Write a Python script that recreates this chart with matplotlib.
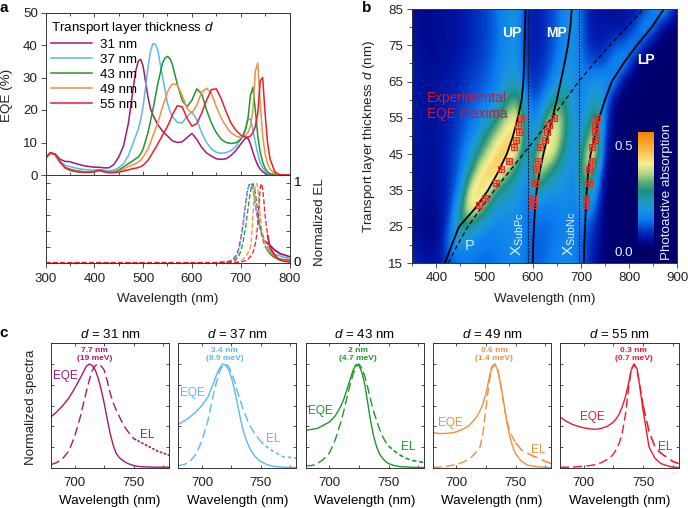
import numpy as np
import matplotlib
matplotlib.use('Agg')
import matplotlib.pyplot as plt
from matplotlib.colors import LinearSegmentedColormap
from matplotlib.ticker import MultipleLocator

plt.rcParams['font.family'] = ['Liberation Sans', 'DejaVu Sans']
plt.rcParams['mathtext.fontset'] = 'custom'
plt.rcParams['mathtext.rm'] = 'Liberation Sans'
plt.rcParams['mathtext.it'] = 'Liberation Sans:italic'
plt.rcParams['mathtext.bf'] = 'Liberation Sans:bold'
plt.rcParams['font.size'] = 9.6
plt.rcParams['axes.linewidth'] = 0.7
plt.rcParams['axes.edgecolor'] = '#333333'
plt.rcParams['xtick.color'] = '#333333'
plt.rcParams['ytick.color'] = '#333333'
plt.rcParams['xtick.labelcolor'] = '#222222'
plt.rcParams['ytick.labelcolor'] = '#222222'

W, H = 688, 508
thickness = [31, 37, 43, 49, 55]
colors = ['#a01a74', '#5cb8ee', '#1f962e', '#ef9140', '#ea1d2c']

# panel a, EQE in percent
wl_eqe = [300, 310, 320, 330, 340, 350, 360, 370, 380, 390, 400, 410, 420, 430, 440, 450, 460, 470, 480,
          485, 490, 495, 500, 510, 515, 520, 525, 530, 540, 545, 550, 555, 560,
          570, 580, 590, 600, 610, 620, 630, 640, 650, 660, 670,
          680, 690, 700, 705, 710, 715, 720, 725, 730, 735, 740, 745, 750, 755, 760, 770, 780, 790, 800]
eqe_31 = [5.2, 6.8, 6.5, 4.8, 4.2, 4.1, 3.6, 3.2, 2.8, 2.6, 2.4, 2.4, 2.2, 2.2, 3.2, 5.5, 9, 16, 27,
          32, 35, 35.6, 33.5, 24, 20.5, 18.5, 17, 15.5, 13.5, 12.7, 12, 11.2, 10.5,
          10, 10.2, 11.5, 12.8, 11, 8.5, 6.8, 5.8, 5, 4.8, 5,
          6, 7.5, 9.5, 10.5, 11.3, 11.3, 9.5, 7, 4.8, 3, 1.8, 1, 0.5, 0.2, 0.1, 0, 0, 0, 0]
eqe_37 = [5.2, 6.7, 6.3, 4.2, 3.0, 2.6, 2.2, 1.9, 1.7, 1.5, 1.5, 1.7, 1.5, 1.3, 1.5, 2.2, 3.5, 6, 10,
          12, 14, 17, 21, 33, 38, 40.4, 40.2, 38.5, 30, 26, 22, 19.7, 18,
          16.2, 16, 18, 19.5, 17, 13, 10, 8, 7, 6.7, 6.9,
          7.5, 8.7, 11, 12.5, 14.5, 17, 17.3, 14, 10, 6.5, 3.8, 2.2, 1.1, 0.5, 0.2, 0.05, 0, 0, 0]
eqe_43 = [5.2, 6.7, 6.2, 3.8, 2.4, 1.8, 1.4, 1.2, 1.0, 1.0, 1.1, 1.5, 1.1, 0.9, 1, 1.5, 2.5, 3.5, 4.5,
          5, 5.5, 6.5, 8, 13, 16.5, 20, 24, 28, 34.5, 36, 36.5, 35.8, 34,
          28, 23, 21, 23, 26.5, 25, 20, 16, 13, 11, 10,
          9.7, 9.9, 11, 12, 14, 17.5, 24.5, 27, 20, 12, 7, 4, 2, 1, 0.4, 0.1, 0, 0, 0]
eqe_49 = [5.2, 6.7, 6.2, 3.8, 2.2, 1.5, 1.2, 1.0, 0.9, 0.9, 1, 1.4, 1, 0.8, 0.9, 1.2, 1.8, 2.6, 3.2,
          3.5, 4, 4.6, 5.5, 8, 10, 12, 14, 16, 21, 23.2, 25.5, 27, 28,
          27.8, 24.5, 20.5, 19, 21.5, 25.5, 26.7, 25, 21, 17.5, 15,
          13, 12, 11.5, 11.7, 12.2, 13.2, 15, 20, 32, 34.5, 22, 12, 6.5, 3.5, 1.8, 0.4, 0.1, 0, 0]
eqe_55 = [5.2, 6.9, 6.3, 4, 2.2, 1.5, 1.1, 0.9, 0.8, 0.8, 1, 1.4, 1, 0.7, 0.7, 0.9, 1.2, 1.6, 2,
          2.1, 2.3, 2.6, 3, 4.5, 5.7, 7, 8.2, 9.5, 12.3, 13.6, 15, 16.6, 18.5,
          21.3, 21, 17.5, 15, 15.8, 19, 23, 26.3, 26.5, 23.5, 19.5,
          16, 13.8, 12.3, 11.9, 11.7, 11.7, 12, 13, 15, 19, 29, 30, 19, 10, 5, 0.9, 0.1, 0, 0]
eqe_all = [eqe_31, eqe_37, eqe_43, eqe_49, eqe_55]

# panel c, normalized spectra on a common grid
wl_c = [680, 685, 690, 695, 700, 705, 710, 712.5, 715, 717.5, 720, 722.5, 725, 727.5, 730, 732.5, 735, 737.5,
        740, 742.5, 745, 747.5, 750, 755, 760, 765, 770, 775, 780]
c_eqe_31 = [.49, .54, .60, .67, .765, .87, .98, 1.0, .985, .94, .86, .75, .62, .47, .33, .22, .14, .10,
            .075, .055, .04, .03, .02, .01, .008, .006, .005, .005, .005]
c_eqe_37 = [.42, .45, .49, .54, .60, .68, .82, .90, .96, 1.0, .99, .95, .87, .76, .62, .48, .36, .27,
            .2, .15, .11, .08, .06, .03, .015, .008, .004, .003, .002]
c_eqe_43 = [.36, .37, .38, .41, .44, .5, .6, .67, .76, .85, .94, .995, .99, .92, .8, .62, .44, .3,
            .2, .13, .09, .06, .04, .02, .01, .008, .004, .002, .002]
c_eqe_49 = [.34, .33, .33, .335, .345, .37, .40, .43, .46, .5, .55, .62, .72, .86, .98, 1.0, .93, .8,
            .62, .44, .3, .2, .13, .06, .025, .015, .008, .004, .002]
c_eqe_55 = [.49, .45, .42, .40, .385, .375, .37, .375, .38, .39, .40, .42, .44, .475, .52, .59, .68, .8,
            .94, 1.0, .95, .76, .55, .2, .09, .04, .02, .006, .002]
c_el_31 = [.03, .05, .09, .16, .3, .5, .74, .85, .94, .985, 1.0, .98, .94, .84, .72, .63, .56, .50,
           .44, .39, .35, .31, .28, .25, .22, .19, .16, .14, .12]
c_el_37 = [.02, .03, .06, .13, .26, .45, .72, .83, .93, .98, 1.0, .98, .92, .84, .74, .65, .56, .49,
           .42, .37, .33, .29, .25, .2, .16, .13, .1, .1, .09]
c_el_43 = [.02, .02, .04, .08, .14, .27, .45, .56, .68, .8, .9, .97, 1.0, .96, .88, .77, .65, .54,
           .45, .37, .3, .25, .21, .16, .12, .09, .07, .06, .05]
c_el_49 = [.005, .005, .01, .02, .03, .05, .08, .1, .13, .16, .2, .34, .58, .82, .96, 1.0, .95, .78,
           .6, .46, .35, .29, .24, .17, .14, .11, .09, .06, .04]
c_el_55 = [.005, .005, .005, .01, .015, .02, .03, .04, .05, .065, .08, .1, .13, .18, .24, .34, .5, .74,
           .95, 1.0, .93, .78, .6, .35, .2, .14, .1, .06, .04]
c_eqe = [c_eqe_31, c_eqe_37, c_eqe_43, c_eqe_49, c_eqe_55]
c_el = [c_el_31, c_el_37, c_el_43, c_el_49, c_el_55]
c_notes = ['7.7 nm\n(19 meV)', '3.4 nm\n(8.9 meV)', '2 nm\n(4.7 meV)', '0.6 nm\n(1.4 meV)', '0.3 nm\n(0.7 meV)']

# EL traces outside the range of panel c
wl_el_base = [300, 500, 650, 670]
el_base = [0.005, 0.005, 0.005, 0.012]
wl_el_tail = [790, 800]
el_tails = [[.10, .08], [.07, .06], [.04, .035], [.03, .02], [.02, .015]]

# panel b, absorption map, rows are d = 15..85 in steps of 5
map_wl = np.arange(350, 911, 20)
map_d = np.arange(15, 86, 5)
absorption = np.array([
    [.10, .08, .06, .08, .12, .14, .15, .14, .14, .15, .17, .18, .14, .13, .15, .17, .19, .16, .12, .06, .03, .02, .02, .02, .02, .02, .02, .02, .02],
    [.07, .06, .05, .07, .18, .20, .18, .16, .15, .16, .18, .19, .14, .13, .14, .16, .18, .16, .12, .08, .03, .02, .02, .02, .02, .02, .02, .02, .02],
    [.06, .05, .04, .06, .14, .30, .26, .20, .18, .17, .18, .19, .14, .14, .14, .15, .17, .16, .14, .09, .03, .02, .02, .02, .02, .02, .02, .02, .02],
    [.07, .05, .05, .07, .10, .28, .46, .38, .26, .20, .20, .20, .14, .16, .16, .17, .18, .16, .20, .14, .03, .02, .02, .02, .02, .02, .02, .02, .02],
    [.07, .06, .05, .07, .10, .17, .42, .48, .40, .28, .24, .22, .15, .28, .20, .20, .20, .16, .32, .20, .03, .02, .02, .02, .02, .02, .02, .02, .02],
    [.07, .06, .06, .07, .10, .14, .28, .42, .48, .46, .34, .26, .16, .42, .32, .24, .20, .17, .40, .28, .04, .02, .02, .02, .02, .02, .02, .02, .02],
    [.07, .06, .06, .07, .10, .13, .20, .32, .40, .48, .48, .38, .17, .36, .46, .36, .24, .18, .36, .46, .06, .03, .02, .02, .02, .02, .02, .02, .02],
    [.08, .06, .06, .07, .09, .12, .16, .22, .32, .40, .46, .46, .20, .22, .44, .42, .28, .18, .28, .42, .10, .03, .02, .02, .02, .02, .02, .02, .02],
    [.08, .06, .06, .07, .09, .11, .14, .17, .22, .30, .40, .42, .20, .16, .32, .42, .30, .18, .20, .36, .14, .03, .02, .02, .02, .02, .02, .02, .02],
    [.08, .06, .06, .07, .08, .10, .12, .14, .16, .20, .30, .34, .14, .12, .20, .30, .28, .17, .18, .26, .18, .04, .02, .02, .02, .02, .02, .02, .02],
    [.08, .06, .06, .07, .08, .09, .11, .12, .14, .17, .22, .24, .10, .10, .13, .20, .22, .19, .17, .20, .20, .18, .04, .02, .02, .02, .02, .02, .02],
    [.08, .06, .06, .06, .07, .08, .10, .11, .13, .16, .20, .20, .09, .09, .11, .16, .20, .19, .13, .12, .12, .18, .20, .06, .02, .02, .02, .02, .02],
    [.07, .05, .05, .06, .06, .07, .09, .10, .12, .15, .19, .19, .08, .08, .10, .14, .19, .19, .11, .08, .09, .12, .14, .20, .10, .03, .02, .02, .02],
    [.07, .05, .05, .06, .06, .07, .09, .10, .12, .15, .19, .20, .08, .08, .10, .13, .19, .20, .10, .07, .07, .07, .06, .10, .20, .17, .05, .03, .02],
    [.06, .05, .05, .06, .06, .07, .09, .10, .12, .15, .19, .20, .08, .08, .10, .13, .18, .20, .09, .07, .06, .06, .07, .07, .09, .16, .22, .12, .04],
])
branch_d = [15, 20, 25, 30, 35, 40, 45, 50, 55, 60, 65, 70, 75, 80, 85]
up_wl = [418, 432, 447, 480, 507, 528, 546, 559, 569, 577, 580.5, 582, 583, 584, 585]
mp_wl = [600, 601, 602.5, 604.5, 608, 614, 622, 631, 641, 650, 658, 666, 673, 678, 681]
lp_wl = [706, 707, 708.5, 710, 712, 715, 720, 729, 738, 750, 764, 788, 816, 847, 872]
photon_wl = [425, 444, 465, 492, 520, 550, 580, 610, 640, 668, 695, 727, 760, 795, 830]
exp_d = [31, 33, 37, 41, 43, 47, 49, 51, 53, 55]
exp_up = [488, 500, 524, 535, 551, 562, 566, 572, 570, 575]
exp_mp = [600, 600, 605, 607, 610, 615, 626, 630, 634, 645]
exp_lp = [710, 711, 716, 716, 722, 722, 730, 730, 729, 734]
x_subpc = 591
x_subnc = 697

cmap_stops = [(0.0, '#00005e'), (0.06, '#00007c'), (0.15, '#0020b4'), (0.27, '#0a7cf0'), (0.36, '#1a96e0'),
              (0.45, '#1e9aa8'), (0.51, '#1c8e84'), (0.59, '#62b078'), (0.66, '#b8d888'), (0.74, '#f6f090'),
              (0.82, '#fbc858'), (1.0, '#f78200')]
absorb_cmap = LinearSegmentedColormap.from_list('absorb', cmap_stops)
VMAX = 0.57


def px_axes(fig, x0, y0, x1, y1):
    return fig.add_axes([x0 / W, 1 - y1 / H, (x1 - x0) / W, (y1 - y0) / H])


fig = plt.figure(figsize=(W / 100, H / 100), dpi=100)

# ---- a, top
ax_eqe = px_axes(fig, 45.5, 12.5, 289.5, 175)
for vals, col, d in zip(eqe_all, colors, thickness):
    ax_eqe.plot(wl_eqe, vals, color=col, lw=1.1, label=f'{d} nm')
ax_eqe.set_xlim(300, 800)
ax_eqe.set_ylim(0, 50)
ax_eqe.xaxis.set_major_locator(MultipleLocator(100))
ax_eqe.xaxis.set_minor_locator(MultipleLocator(50))
ax_eqe.yaxis.set_major_locator(MultipleLocator(10))
ax_eqe.tick_params(axis='x', which='both', direction='in', top=True, labelbottom=False, length=3, width=0.6)
ax_eqe.tick_params(axis='x', which='minor', length=2)
ax_eqe.tick_params(axis='y', direction='out', length=3.5, width=0.6, pad=2)
leg = ax_eqe.legend(title='Transport layer thickness $d$', loc='upper left', frameon=False,
                    bbox_to_anchor=(0.0, 0.985), borderaxespad=0.1, alignment='left', handlelength=3.1,
                    handletextpad=0.55, labelspacing=0.19, fontsize=9.6, title_fontsize=9.6, borderpad=0.3)

# ---- a, bottom
ax_el = px_axes(fig, 45.5, 175, 289.5, 263)
for vals, tail, col in zip(c_el, el_tails, colors):
    ax_el.plot(wl_el_base + wl_c, el_base + vals, color=col, lw=0.9, dashes=(4, 1.8))
    ax_el.plot(wl_c[-6:] + wl_el_tail, vals[-6:] + tail, color=col, lw=1.3)
ax_el.set_xlim(300, 800)
ax_el.set_ylim(0, 88 / 79.5)
ax_el.xaxis.set_major_locator(MultipleLocator(100))
ax_el.xaxis.set_minor_locator(MultipleLocator(50))
ax_el.yaxis.set_major_locator(MultipleLocator(0.2))
ax_el.tick_params(axis='x', which='major', direction='out', length=3.5, width=0.6, pad=4)
ax_el.tick_params(axis='x', which='minor', direction='out', length=2, width=0.6)
ax_el.tick_params(axis='y', which='major', direction='in', length=3, width=0.6, left=True, right=True,
                  labelleft=False, labelright=False)
ax_el.text(1.018, 1 / (88 / 79.5), '1', transform=ax_el.transAxes, ha='left', va='center')
ax_el.text(1.018, 0, '0', transform=ax_el.transAxes, ha='left', va='center')

# ---- b
ax_map = px_axes(fig, 412.3, 9, 677.3, 263)
ax_map.imshow(absorption, origin='lower', aspect='auto', cmap=absorb_cmap, vmin=0, vmax=VMAX,
              interpolation='bicubic', extent=[map_wl[0] - 10, map_wl[-1] + 10, map_d[0] - 2.5, map_d[-1] + 2.5])
ax_map.plot(up_wl, branch_d, color='black', lw=1.3)
ax_map.plot(mp_wl, branch_d, color='black', lw=1.3)
ax_map.plot(lp_wl, branch_d, color='black', lw=1.3)
ax_map.plot(photon_wl, branch_d, color='black', lw=0.9, dashes=(3.5, 2.5))
ax_map.axvline(x_subpc, color='#111133', lw=0.8, dashes=(2, 1))
ax_map.axvline(x_subnc, color='#111133', lw=0.8, dashes=(2, 1))
for exp_wl in (exp_up, exp_mp, exp_lp):
    ax_map.plot(exp_wl, exp_d, ls='none', marker='s', ms=3.8, mfc=(0.93, 0.16, 0.14, 0.35), mec='#ee2a24', mew=0.8)
    ax_map.plot(exp_wl, exp_d, ls='none', marker='+', ms=3.8, mec='#ee2a24', mew=0.6)
ax_map.set_xlim(350, 900)
ax_map.set_ylim(15, 85)
ax_map.set_yticks(np.arange(15, 86, 10))
ax_map.xaxis.set_major_locator(MultipleLocator(100))
ax_map.xaxis.set_minor_locator(MultipleLocator(50))
ax_map.yaxis.set_minor_locator(MultipleLocator(5))
ax_map.tick_params(axis='both', which='major', direction='out', length=3.5, width=0.6, pad=3)
ax_map.tick_params(axis='both', which='minor', direction='out', length=2, width=0.6)
ax_map.text(557, 78.5, 'UP', color='white', fontweight='bold', ha='center', va='center', fontsize=10)
ax_map.text(650, 78.5, 'MP', color='white', fontweight='bold', ha='center', va='center', fontsize=10)
ax_map.text(834, 71, 'LP', color='white', fontweight='bold', ha='center', va='center', fontsize=10)
ax_map.text(468, 19.7, 'P', color='#cfe8ff', ha='center', va='center', fontsize=10.5)
ax_map.text(381, 60.5, 'Experimental', color='#c21a40', fontsize=9.8, ha='left', va='center')
ax_map.text(381, 56.2, 'EQE maxima', color='#c21a40', fontsize=9.8, ha='left', va='center')
ax_map.text(568, 23, 'X$_{\\mathrm{SubPc}}$', color='#e4f2ff', rotation=90, ha='center', va='center', fontsize=11)
ax_map.text(677, 23, 'X$_{\\mathrm{SubNc}}$', color='#e4f2ff', rotation=90, ha='center', va='center', fontsize=11)

# colour bar of b
ax_cb = px_axes(fig, 638.3, 132, 654, 257)
cb_vals = np.linspace(-0.02, VMAX, 200).reshape(-1, 1)
ax_cb.imshow(cb_vals, origin='lower', aspect='auto', cmap=absorb_cmap, vmin=0, vmax=VMAX)
ax_cb.axis('off')
fig.text(624 / W, 1 - 147 / H, '0.5', color='#e6f0ff', ha='center', va='center')
fig.text(624 / W, 1 - 253 / H, '0.0', color='#e6f0ff', ha='center', va='center')
fig.text(667 / W, 1 - 192 / H, 'Photoactive absorption', color='#e6f0ff', rotation=90, ha='center', va='center')

# ---- c
c_boxes = [(51, 169.3), (178.3, 296.3), (305.7, 424), (432.7, 551.3), (560, 678.7)]
eqe_label_pos = [(692, .884), (692, .717), (692, .55), (695, .434), (707.6, .49)]
el_label_pos = [(761.7, .315), (760.5, .28), (767, .2), (768.7, .17), (769, .196)]
note_x = [717, 719, 724, 732, 742]
tail_dashes = [(1.6, 0.9), (2, 1.8), (2.6, 1.6), (6.5, 3), (6.5, 3)]
for i, (x0, x1) in enumerate(c_boxes):
    ax = px_axes(fig, x0, 343.3, x1, 467.7)
    col = colors[i]
    ax.plot(wl_c, c_eqe[i], color=col, lw=1.0)
    ax.plot(wl_c[:23], c_el[i][:23], color=col, lw=1.0, dashes=(6.5, 3))
    ax.plot(wl_c[22:], c_el[i][22:], color=col, lw=1.2, dashes=tail_dashes[i])
    ax.set_xlim(680, 780)
    ax.set_ylim(0, 1.2)
    ax.xaxis.set_major_locator(MultipleLocator(50))
    ax.xaxis.set_minor_locator(MultipleLocator(25))
    ax.yaxis.set_major_locator(MultipleLocator(0.2))
    ax.tick_params(axis='x', which='both', direction='in', top=True, length=2.5, width=0.6, pad=7)
    ax.tick_params(axis='y', which='both', direction='in', right=True, length=2.5, width=0.6, labelleft=False)
    ax.set_xlabel('Wavelength (nm)', labelpad=4)
    ax.set_title(f'$d$ = {thickness[i]} nm', fontsize=9.6, pad=3.5)
    ax.text(note_x[i], 1.09, c_notes[i], color=col, fontsize=6, fontweight='bold', ha='center', va='center',
            linespacing=1.2)
    ax.text(*eqe_label_pos[i], 'EQE', color=col, ha='center', va='center', fontsize=8.5)
    ax.text(*el_label_pos[i], 'EL', color=col, ha='center', va='center', fontsize=8.5)

# loose labels
fig.text(7.5 / W, 1 - 95 / H, 'EQE (%)', rotation=90, ha='center', va='center', color='#222222')
fig.text(320 / W, 1 - 222 / H, 'Normalized EL', rotation=90, ha='center', va='center', color='#222222')
fig.text(168 / W, 1 - 299 / H, 'Wavelength (nm)', ha='center', va='center', color='#222222')
fig.text(544.5 / W, 1 - 299 / H, 'Wavelength (nm)', ha='center', va='center', color='#222222')
fig.text(369 / W, 1 - 136 / H, 'Transport layer thickness $d$ (nm)', rotation=90, ha='center', va='center', color='#222222')
fig.text(31 / W, 1 - 407 / H, 'Normalized spectra', rotation=90, ha='center', va='center', color='#222222')
fig.text(4 / W, 1 - 8 / H, 'a', fontweight='bold', fontsize=11, ha='center', va='center')
fig.text(367 / W, 1 - 8 / H, 'b', fontweight='bold', fontsize=11, ha='center', va='center')
fig.text(4 / W, 1 - 333 / H, 'c', fontweight='bold', fontsize=11, ha='center', va='center')

fig.savefig('out.png', dpi=100)
